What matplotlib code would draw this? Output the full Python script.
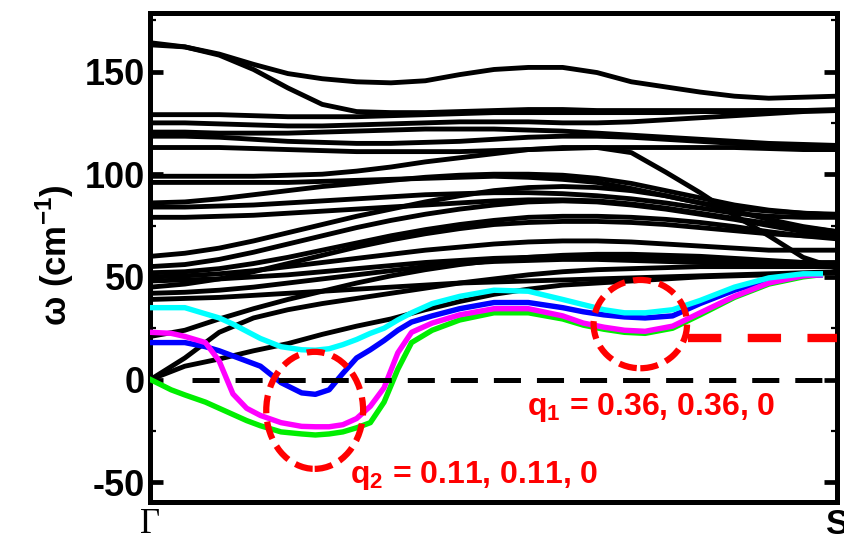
import matplotlib
matplotlib.use("Agg")
import matplotlib.pyplot as plt
from matplotlib.patches import Ellipse
from matplotlib.ticker import MultipleLocator

plt.rcParams['font.family'] = ['Liberation Sans', 'DejaVu Sans']
plt.rcParams['lines.scale_dashes'] = False
plt.rcParams['axes.unicode_minus'] = False
plt.rcParams['mathtext.fontset'] = 'custom'
plt.rcParams['mathtext.rm'] = 'Liberation Sans'
plt.rcParams['mathtext.bf'] = 'Liberation Sans:bold'

# reduced wave vector along Gamma -> S for the black branches
q_band = [0.00, 0.05, 0.10, 0.15, 0.20, 0.25, 0.30, 0.35, 0.40, 0.45, 0.50,
          0.55, 0.60, 0.65, 0.70, 0.75, 0.80, 0.85, 0.90, 0.95, 1.00]

# high optical branches (cm^-1)
upper_branches = [
    [164, 162, 158.5, 153.5, 149, 146.5, 145, 144.5, 145.5, 148.5, 151, 152, 152, 149.5, 145, 142.5, 140, 138, 137, 137.5, 138],
    [163, 162, 158, 151, 142, 134, 130.5, 130, 130, 130.5, 131, 131.5, 131.5, 131, 131, 131, 131, 131, 131, 131, 131],
    [129, 129, 129, 128.5, 128, 128, 128, 128.5, 129, 129.5, 130, 130, 130, 130, 130, 130, 130.5, 130.5, 131, 131, 131.5],
    [125, 125, 124.5, 124, 123.5, 123.5, 124, 124.5, 125, 125.5, 125.5, 125.5, 125, 125, 125.5, 126.5, 127.5, 128.5, 129.5, 130.5, 131],
    [120.5, 120.5, 120, 120, 120, 120.5, 121, 121.5, 122, 122, 122, 121.5, 121, 120, 119, 118, 117, 116, 115, 114.5, 114],
    [118.5, 118.5, 118, 117, 116, 115.5, 115, 115, 115.5, 116, 117, 118, 118.5, 118.5, 118, 117, 116, 115, 114, 113, 112.5],
    [113, 113, 113, 112.5, 112, 111.5, 111, 111, 111, 111, 111.5, 112, 112.5, 113, 113, 113, 113, 113, 112.5, 112, 112],
]

# intermediate branches, 80-100 cm^-1 at Gamma
middle_branches = [
    [99, 99, 99, 99, 99.5, 100, 101.5, 103.5, 106, 108, 110, 112, 113, 113, 110.5, 101, 91, 80, 70, 59.5, 54],
    [96, 96, 96, 96, 96, 96.5, 97, 97.5, 98, 98.5, 99, 98.5, 97.5, 96, 93, 89.5, 86, 83.5, 82, 81, 80.5],
    [86, 86.5, 88, 90, 92, 94, 95.5, 97, 98.5, 99.5, 100, 100, 99.5, 98, 95.5, 92, 88.5, 85, 82.5, 81, 80],
    [84, 84, 84.5, 85, 86, 87, 88, 89, 90, 90.5, 91, 91, 90.5, 89.5, 88, 86, 83.5, 81, 79.5, 79, 79],
    [79, 79, 79.5, 80, 81, 82, 83, 84, 85, 86, 87, 87.5, 87.5, 87, 85.5, 83.5, 81, 78.5, 76, 74, 72],
]

# low branches, including the two black acoustic ones
lower_branches = [
    [60, 61.5, 64, 67.5, 71.5, 75.5, 79.5, 83, 86.5, 89.5, 92, 93.5, 94, 93.5, 92, 89.5, 86, 82, 78, 74.5, 72],
    [55, 56, 58.5, 62, 66, 70, 74, 77.5, 80.5, 83, 85, 86.5, 87, 86.5, 85, 83, 80.5, 78, 75, 72, 70],
    [52, 52.5, 54, 56.5, 59.5, 63, 66.5, 70, 73, 75.5, 77.5, 79, 79.5, 79.5, 79, 78, 76.5, 74.5, 72, 70, 68.5],
    [50, 50.5, 51.5, 53, 55, 57, 59, 61, 63, 64.5, 66, 67, 67.5, 67.5, 67, 66, 65, 64, 63, 63, 63],
    [48, 48.5, 49, 50, 51, 52.5, 54, 55.5, 57, 58, 59, 59.5, 60, 60, 59.5, 59, 58.5, 58, 57.5, 57, 57],
    [45, 46.5, 49, 52.5, 56.5, 60.5, 64.5, 68, 71, 73.5, 75.5, 76.5, 77, 77, 76.5, 75.5, 74, 72.5, 71, 70, 69.5],
    [42, 42.5, 43.5, 45, 47, 49, 51, 53, 55, 56.5, 57.5, 58, 58.5, 58.5, 58, 57.5, 57, 56.5, 56, 55.5, 55],
    [39, 39.5, 40, 41, 42, 43, 44, 45, 46, 47, 47.5, 48, 48.5, 49, 49.5, 50, 50.5, 51, 51.5, 52, 52.5],
    [21, 24, 29.5, 34.5, 39, 43, 47, 50.5, 53.5, 56, 58, 59.5, 60.5, 61, 61, 60.5, 60, 59, 58, 57, 56],
    [0, 10.5, 23, 30, 34, 37, 39.5, 42, 44.5, 47, 49, 51, 52.5, 53.5, 54, 54.5, 55, 55, 55, 55, 55],
    [0, 6.5, 10, 14, 17.5, 22, 26, 29.5, 34, 38, 41.5, 44, 46, 47, 48, 49, 50, 50.5, 51, 51.5, 52],
]

# the four soft branches, sampled more densely
q_soft = [0, 0.03, 0.05, 0.08, 0.10, 0.12, 0.14, 0.16, 0.19, 0.22, 0.24, 0.26, 0.28,
          0.30, 0.32, 0.34, 0.36, 0.38, 0.41, 0.45, 0.50, 0.55, 0.60, 0.63, 0.66,
          0.69, 0.72, 0.76, 0.80, 0.85, 0.90, 0.95, 0.975]
soft_green = [0, -5, -7.5, -11, -14, -17, -20, -22.5, -25.5, -26.5, -27, -26.5, -25.5,
              -23.5, -21, -11, 5, 18, 24, 29, 32.5, 32.5, 29.5, 26.5, 24.5,
              23, 22.5, 25, 31.5, 40, 46.5, 50, 51]
soft_magenta = [23, 22.5, 21, 18, 9, -7, -14, -17.5, -21, -22.8, -23, -23, -22,
                -19, -13, -4, 13, 23, 27.5, 31.5, 34.5, 34.5, 31, 27.5, 25.5,
                24, 23.5, 26, 32.5, 40.5, 47, 50.5, 51]
soft_blue = [18, 18, 18, 16, 14, 11.5, 9, 6.5, -1.5, -6.5, -7.2, -5, 3,
             10.5, 14.5, 19, 24, 28, 31, 34.5, 37.5, 37.5, 35, 33, 31.5,
             30.5, 30, 31, 37, 43.5, 48.5, 51, 51]
soft_cyan = [35, 35, 35, 32, 30, 27, 23.5, 20, 16, 14.5, 14.3, 15, 17,
             19.5, 22.5, 25, 29, 32.5, 37, 40.5, 43.5, 43, 39, 36.5, 34,
             32.5, 32.5, 34, 38.5, 45, 49.5, 51.5, 51.5]

q1_label = r'q$_\mathbf{1}$ = 0.36, 0.36, 0'
q2_label = r'q$_\mathbf{2}$ = 0.11, 0.11, 0'

fig = plt.figure(figsize=(8.45, 5.4), dpi=100)
ax = fig.add_axes([0.1781, 0.0709, 0.813, 0.905])

for branch in upper_branches + middle_branches + lower_branches:
    ax.plot(q_band, branch, color='black', lw=3.5, solid_joinstyle='round',
            solid_capstyle='round', zorder=2)

for vals, col in [(soft_green, '#00ee00'), (soft_blue, '#0000ff'),
                  (soft_magenta, '#ff00ff'), (soft_cyan, '#00ffff')]:
    ax.plot(q_soft, vals, color=col, lw=3.9, solid_joinstyle='round', zorder=3)

# zero-frequency reference
ax.hlines(0, 0.06, 1.0, colors='black', lw=3.6, linestyles=(0, (19.5, 11.5)),
          zorder=4)

# red markers around the two instabilities
red = '#ff0000'
ax.add_patch(Ellipse((0.239, -15), 0.141, 57, fill=False, ec=red, lw=4.5,
                     ls=(0, (13, 6)), zorder=5))
ax.add_patch(Ellipse((0.713, 27), 0.136, 43, fill=False, ec=red, lw=4.5,
                     ls=(0, (13, 6)), zorder=5))
ax.hlines(20, 0.782, 1.0, colors=red, lw=6, linestyles=(0, (24, 19)), zorder=5)

ax.text(0.548, -17.5, q1_label, color=red, fontsize=23, fontweight='bold',
        va='baseline', ha='left', zorder=6)
ax.text(0.290, -50.5, q2_label, color=red, fontsize=23, fontweight='bold',
        va='baseline', ha='left', zorder=6)

ax.set_xlim(0, 1)
ax.set_ylim(-59.5, 178.5)

ax.yaxis.set_major_locator(MultipleLocator(50))
ax.yaxis.set_minor_locator(MultipleLocator(25))
ax.tick_params(axis='y', which='major', direction='in', length=9.5, width=3.4,
               labelsize=26, pad=4, right=True)
ax.tick_params(axis='y', which='minor', direction='in', length=4, width=1.6,
               right=True)
for lab in ax.get_yticklabels():
    lab.set_fontweight('bold')

ax.set_xticks([0, 1])
ax.set_xticklabels([])
ax.tick_params(axis='x', length=0)
ax.text(0.0, -0.012, 'Γ', transform=ax.transAxes, ha='center', va='top',
        fontsize=25, family=['Liberation Serif', 'DejaVu Serif'])
ax.text(1.0, -0.012, 'S', transform=ax.transAxes, ha='center', va='top',
        fontsize=25, fontweight='bold')

for sp in ax.spines.values():
    sp.set_linewidth(3.6)

ax.set_ylabel(r'ω (cm$^\mathbf{-1}$)', fontsize=25, fontweight='bold',
              family=['Liberation Sans', 'DejaVu Sans'])
ax.yaxis.set_label_coords(-0.108, 0.505)

fig.savefig('out.png', dpi=100)
